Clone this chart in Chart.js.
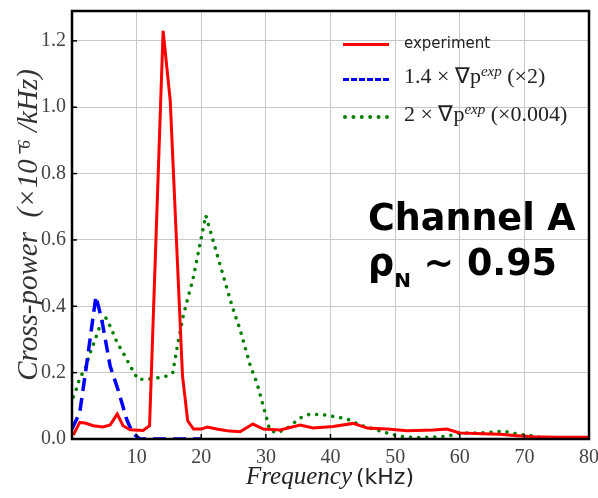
<!DOCTYPE html>
<html>
<head>
<meta charset="utf-8">
<script src="https://cdn.jsdelivr.net/npm/chart.js@4/dist/chart.umd.min.js"></script>
<style>
    html, body { margin: 0; padding: 0; background: #fff; }
    #wrap { position: relative; width: 598px; height: 498px; }
    #legend { position: absolute; left: 343px; top: 30px; width: 250px; }
    .leg-line { position: absolute; left: 0; width: 46px; }
    .leg-text { position: absolute; left: 61px; top: 0; color: #222; white-space: nowrap; }
    #xTitle { position: absolute; left: 0; width: 660px; top: 462px; text-align: center; color: #222; white-space: nowrap; }
    #annot { position: absolute; left: 368px; top: 195px; font-family: 'DejaVu Sans', sans-serif; font-weight: bold; font-size: 36.5px; line-height: 45px; color: #000; white-space: nowrap; }
</style>
</head>
<body>
<div id="wrap">
    <canvas id="powerChart" width="598" height="498"></canvas>
    <div id="legend"></div>
    <div id="xTitle"><span style="font-family:'Liberation Serif',serif;font-style:italic;font-size:25px;">Frequency</span> <span style="font-family:'DejaVu Sans',sans-serif;font-size:22px;">(kHz)</span></div>
    <div id="annot">Channel A<br>ρ<sub style="font-size:20px;vertical-align:-12px;">N</sub> ~ 0.95</div>
</div>
<script>
// Данные
const expFreq  = [0.2, 1.2, 2.0, 3.3, 4.8, 5.9, 7.0, 7.9, 9.0, 11.0, 12.0, 14.1, 15.2, 17.1, 17.9, 18.8, 20.0, 20.9, 22.4, 24.0, 26.0, 28.0, 29.6, 32.2, 35.3, 37.3, 40.4, 43.5, 45.7, 48.8, 51.9, 55.9, 58.0, 60.0, 63.6, 66.3, 68.9, 71.4, 75.0, 80.0];
const expPower = [0.012, 0.05, 0.048, 0.04, 0.036, 0.042, 0.075, 0.04, 0.028, 0.026, 0.04, 1.23, 1.02, 0.19, 0.055, 0.03, 0.03, 0.036, 0.03, 0.025, 0.022, 0.045, 0.03, 0.027, 0.042, 0.033, 0.038, 0.047, 0.033, 0.03, 0.025, 0.027, 0.03, 0.018, 0.016, 0.014, 0.01, 0.007, 0.005, 0.005];

const blueFreq  = [0.0, 1.2, 2.3, 3.7, 4.6, 5.9, 7.1, 8.5, 9.4, 10.5, 15.0, 20.0];
const bluePower = [0.03, 0.08, 0.23, 0.43, 0.36, 0.22, 0.15, 0.057, 0.018, 0.0, 0.0, 0.0];

const greenFreq  = [0.2, 0.8, 1.2, 2.0, 2.8, 3.6, 4.3, 5.1, 5.9, 7.0, 8.2, 9.3, 10.2, 11.6, 13.2, 14.7, 15.6, 16.4, 17.2, 18.0, 18.7, 20.7, 24.7, 26.0, 27.6, 28.6, 29.9, 30.6, 31.7, 33.3, 35.3, 36.8, 38.9, 41.0, 42.6, 44.6, 46.6, 48.8, 50.8, 53.4, 58.0, 60.0, 62.7, 65.2, 66.7, 68.9, 70.9, 72.5];
const greenPower = [0.127, 0.157, 0.184, 0.21, 0.26, 0.3, 0.34, 0.37, 0.34, 0.29, 0.25, 0.21, 0.18, 0.18, 0.184, 0.19, 0.2, 0.29, 0.37, 0.43, 0.48, 0.674, 0.405, 0.33, 0.22, 0.17, 0.078, 0.027, 0.018, 0.033, 0.063, 0.075, 0.073, 0.066, 0.06, 0.042, 0.03, 0.018, 0.008, 0.004, 0.008, 0.018, 0.018, 0.021, 0.024, 0.015, 0.01, 0.005];

const xTicks = [10, 20, 30, 40, 50, 60, 70, 80];
const yTicks = [0, 0.2, 0.4, 0.6, 0.8, 1.0, 1.2];

const seriesLabels = ['experiment', '1.4 × ∇p<sup>exp</sup> (×2)', '2 × ∇p<sup>exp</sup> (×0.004)'];

function toPoints(xs, ys) {
    return xs.map((x, i) => ({ x: x, y: ys[i] }));
}

// Рамка и внутренние засечки
const frameTicks = {
    id: 'frameTicks',
    afterDraw(chart) {
        const { ctx, chartArea: a, scales } = chart;
        ctx.save();
        ctx.strokeStyle = '#000';
        ctx.lineWidth = 1.5;
        xTicks.forEach(v => {
            const px = scales.x.getPixelForValue(v);
            ctx.beginPath();
            ctx.moveTo(px, a.bottom);
            ctx.lineTo(px, a.bottom - 5);
            ctx.stroke();
        });
        yTicks.forEach(v => {
            const py = scales.y.getPixelForValue(v);
            ctx.beginPath();
            ctx.moveTo(a.left, py);
            ctx.lineTo(a.left + 5, py);
            ctx.stroke();
        });
        ctx.lineWidth = 2.5;
        ctx.strokeRect(a.left, a.top, a.right - a.left, a.bottom - a.top);
        ctx.restore();
    }
};

const ctx = document.getElementById('powerChart').getContext('2d');
const powerChart = new Chart(ctx, {
    type: 'line',
    data: {
        datasets: [
            {
                label: seriesLabels[0],
                data: toPoints(expFreq, expPower),
                borderColor: '#ff0000',
                borderWidth: 3,
                pointRadius: 0,
                tension: 0
            },
            {
                label: seriesLabels[1],
                data: toPoints(blueFreq, bluePower),
                borderColor: '#0000ff',
                borderWidth: 3.5,
                borderDash: [13, 7],
                pointRadius: 0,
                tension: 0
            },
            {
                label: seriesLabels[2],
                data: toPoints(greenFreq, greenPower),
                borderColor: '#007f00',
                borderWidth: 3.5,
                borderDash: [0.1, 8],
                borderCapStyle: 'round',
                pointRadius: 0,
                tension: 0
            }
        ]
    },
    options: {
        responsive: false,
        animation: false,
        layout: { padding: { left: 0, right: 9, top: 11, bottom: 0 } },
        scales: {
            x: {
                type: 'linear',
                min: 0,
                max: 80,
                afterFit: s => { s.height = 59; s.paddingLeft = 0; s.paddingRight = 0; },
                afterBuildTicks: s => { s.ticks = xTicks.map(v => ({ value: v })); },
                grid: { color: '#c8c8c8', lineWidth: 1, drawTicks: false },
                border: { display: false },
                ticks: {
                    padding: 7,
                    color: '#444',
                    font: { family: 'Liberation Serif', size: 20 }
                }
            },
            y: {
                min: 0,
                max: 1.29,
                afterFit: s => { s.width = 72; s.paddingTop = 0; s.paddingBottom = 0; },
                afterBuildTicks: s => { s.ticks = yTicks.map(v => ({ value: v })); },
                grid: { color: '#c8c8c8', lineWidth: 1, drawTicks: false },
                border: { display: false },
                ticks: {
                    padding: 6,
                    color: '#444',
                    font: { family: 'Liberation Serif', size: 20 },
                    callback: v => v.toFixed(1)
                },
                title: {
                    display: true,
                    text: 'Cross-power  (×10⁻⁶ /kHz)',
                    color: '#333',
                    padding: { top: 12, bottom: 0 },
                    font: { family: 'Liberation Serif', style: 'italic', size: 29 }
                }
            }
        },
        plugins: {
            legend: { display: false },
            tooltip: { enabled: false }
        }
    },
    plugins: [frameTicks]
});

// HTML-легенда из наборов данных
function buildLegend() {
    const box = document.getElementById('legend');
    const styles = [
        'border-top:3px solid #ff0000;top:13px;',
        'border-top:3.5px dashed #0000ff;top:48px;',
        'border-top:4px dotted #007f00;top:85px;'
    ];
    const fonts = [
        "font-family:'DejaVu Sans',sans-serif;font-size:15px;top:4px;",
        "font-family:'Liberation Serif',serif;font-size:22px;top:33px;",
        "font-family:'Liberation Serif',serif;font-size:22px;top:71px;"
    ];
    powerChart.data.datasets.forEach((ds, i) => {
        const line = document.createElement('div');
        line.className = 'leg-line';
        line.style.cssText = styles[i];
        box.appendChild(line);
        const txt = document.createElement('div');
        txt.className = 'leg-text';
        txt.style.cssText = fonts[i];
        txt.innerHTML = ds.label.replace(/<sup>/g, '<sup style="font-style:italic;font-size:15px;vertical-align:7px;line-height:0;">');
        box.appendChild(txt);
    });
}
buildLegend();
</script>
</body>
</html>
